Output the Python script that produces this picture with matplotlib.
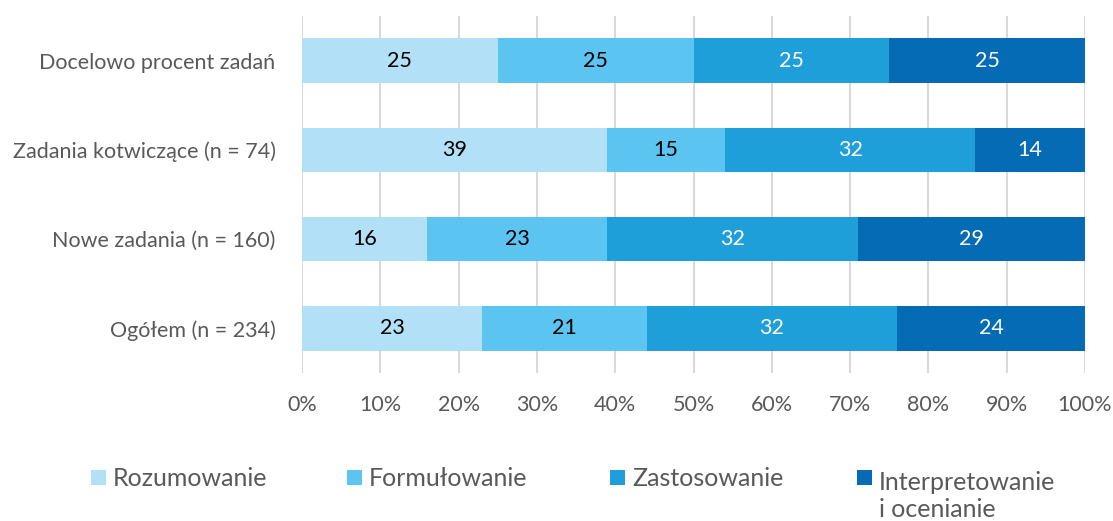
import matplotlib.pyplot as plt
from matplotlib.patches import Rectangle
import numpy as np

plt.rcParams['font.family'] = ['Lato', 'DejaVu Sans']

# dane
kategorie = ["Docelowo procent zadań", "Zadania kotwiczące (n = 74)",
             "Nowe zadania (n = 160)", "Ogółem (n = 234)"]
rozumowanie = [25, 39, 16, 23]
formulowanie = [25, 15, 23, 21]
zastosowanie = [25, 32, 32, 32]
interpretowanie = [25, 14, 29, 24]

serie = ["Rozumowanie", "Formułowanie", "Zastosowanie", "Interpretowanie\ni ocenianie"]
kolory = ["#B2E0F7", "#5BC4F1", "#1E9FDA", "#046BB4"]
kolory_tekstu = ["black", "black", "white", "white"]

W, H = 1113, 521
fig = plt.figure(figsize=(W / 100, H / 100), dpi=100)
ax = fig.add_axes([302 / W, 148 / H, 783 / W, 357 / H])

y = np.arange(len(kategorie))
lewo = np.zeros(len(kategorie))
for wartosci, kolor, kt in zip([rozumowanie, formulowanie, zastosowanie, interpretowanie],
                               kolory, kolory_tekstu):
    w = np.array(wartosci)
    ax.barh(y, w, left=lewo, height=0.5, color=kolor, zorder=3)
    for yi, l, v in zip(y, lewo, w):
        ax.text(l + v / 2, yi, str(v), ha='center', va='center',
                color=kt, fontsize=15.5, zorder=4)
    lewo = lewo + w

ax.set_xlim(0, 100)
ax.set_ylim(len(kategorie) - 0.5, -0.5)
ax.set_xticks(np.arange(0, 101, 10))
ax.set_xticklabels([f"{v}%" for v in range(0, 101, 10)])
ax.set_yticks(y)
ax.set_yticklabels(kategorie)
ax.tick_params(axis='both', length=0, labelsize=15.5, labelcolor="#595959")
ax.tick_params(axis='x', pad=16)
ax.tick_params(axis='y', pad=19)
ax.grid(axis='x', color="#D9D9D9", linewidth=1.5, zorder=0)
for s in ax.spines.values():
    s.set_visible(False)

# legenda (kwadrat + tekst)
kwadraty_x = [91, 347, 610, 857]
interlinia = 1.25
odstep = interlinia * 18 * 100 / 72  # wysokosc linii w px
for nazwa, kolor, x in zip(serie, kolory, kwadraty_x):
    fig.add_artist(Rectangle((x / W, 1 - 485 / H), 15 / W, 15 / H,
                             transform=fig.transFigure, color=kolor, lw=0))
    n_linii = nazwa.count("\n")
    fig.text((x + 22) / W, 1 - (486 + n_linii * odstep) / H, nazwa, ha='left',
             va='baseline', fontsize=18, color="#595959", linespacing=interlinia)

fig.savefig("out.png", dpi=100)
